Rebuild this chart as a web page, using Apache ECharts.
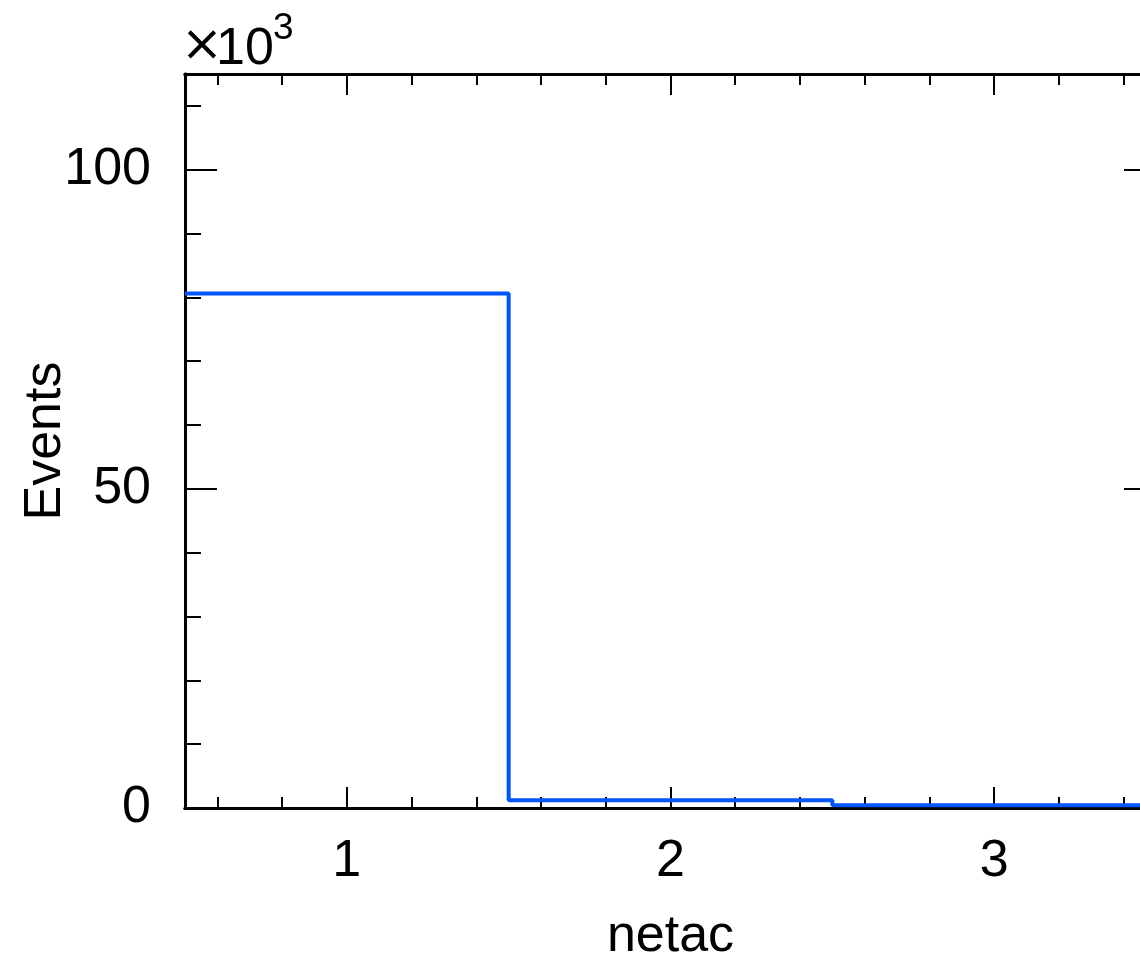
<!DOCTYPE html>
<html>
<head>
<meta charset="utf-8">
<script src="https://cdn.jsdelivr.net/npm/echarts@6/dist/echarts.min.js"></script>
<style>
  html, body { margin: 0; padding: 0; overflow: hidden; background: #fff; }
  #chart { width: 1200px; height: 958px; }
</style>
</head>
<body>
<div id="chart"></div>
<script>
// histogram netac, bin width 1, counts in units of 10^3
const binLow = [0.5, 1.5, 2.5]
const binHigh = [1.5, 2.5, 3.5]
const counts = [80.6, 1.2, 0.45]

const xMajor = [1, 2, 3]
const yMajor = [0, 50, 100]
const xRange = [0.5, 3.5]
const yRange = [0, 115]

// minor ticks: 5 per major on x, 5 per major on y
const xMinor = []
for (let v = 0.6; v < 3.5; v += 0.2) {
  const r = Math.round(v * 10) / 10
  if (!xMajor.includes(r)) xMinor.push(r)
}
const yMinor = []
for (let v = 10; v < 115; v += 10) {
  if (!yMajor.includes(v)) yMinor.push(v)
}

// step outline points
const steps = []
binLow.forEach((lo, i) => steps.push([lo, counts[i]]))
steps.push([binHigh[binHigh.length - 1], counts[counts.length - 1]])

const FONT = 'Liberation Sans, Arial, Helvetica, sans-serif'
const black = '#000'

function tickAxis(pos, range, ticks, len, extra) {
  return Object.assign({
    type: 'value',
    position: pos,
    min: range[0],
    max: range[1],
    axisLine: { show: true, onZero: false, lineStyle: { color: black, width: 3 } },
    axisTick: { show: true, inside: true, length: len, customValues: ticks, lineStyle: { color: black, width: 2 } },
    axisLabel: { show: false },
    splitLine: { show: false }
  }, extra || {})
}

const chart = echarts.init(document.getElementById('chart'))
chart.setOption({
  animation: false,
  backgroundColor: '#fff',
  grid: { left: 185, top: 74, width: 971, height: 734, outerBoundsMode: 'none', containLabel: false },
  xAxis: [
    tickAxis('bottom', xRange, xMajor, 21, {
      name: 'netac',
      nameLocation: 'middle',
      nameGap: 103,
      nameTextStyle: { fontFamily: FONT, fontSize: 52, color: black },
      axisLabel: { show: true, customValues: xMajor, margin: 28, fontFamily: FONT, fontSize: 52, color: black }
    }),
    tickAxis('bottom', xRange, xMinor, 11),
    tickAxis('top', xRange, xMajor, 21),
    tickAxis('top', xRange, xMinor, 11)
  ],
  yAxis: [
    tickAxis('left', yRange, yMajor, 32, {
      name: 'Events',
      nameLocation: 'middle',
      nameGap: 113,
      nameMoveOverlap: false,
      nameTextStyle: { fontFamily: FONT, fontSize: 52, color: black },
      axisLabel: { show: true, customValues: yMajor, margin: 34, fontFamily: FONT, fontSize: 52, color: black }
    }),
    tickAxis('left', yRange, yMinor, 16),
    tickAxis('right', yRange, yMajor, 32),
    tickAxis('right', yRange, yMinor, 16)
  ],
  graphic: [
    { type: 'text', left: 181, top: 22, style: { text: '×', fontFamily: 'DejaVu Sans, sans-serif', fontSize: 50, fill: black } },
    { type: 'text', left: 216, top: 24, style: { text: '10', fontFamily: FONT, fontSize: 52, fill: black } },
    { type: 'text', left: 273, top: 10, style: { text: '3', fontFamily: FONT, fontSize: 37, fill: black } }
  ],
  series: [{
    type: 'line',
    step: 'end',
    data: steps,
    symbol: 'none',
    clip: true,
    lineStyle: { color: '#0055ff', width: 4 }
  }]
})
</script>
</body>
</html>
